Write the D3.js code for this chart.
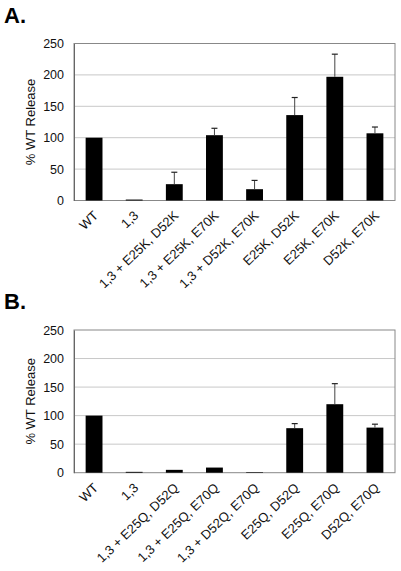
<!DOCTYPE html>
<html><head><meta charset="utf-8">
<script src="https://cdn.jsdelivr.net/npm/d3@7"></script>
<style>body{margin:0;background:#fff}svg{display:block}text{font-family:"Liberation Sans",Arial,sans-serif}</style>
</head><body><svg id="c" width="401" height="571"></svg>
<script>
const categoriesA = ["WT","1,3","1,3 + E25K, D52K","1,3 + E25K, E70K","1,3 + D52K, E70K","E25K, D52K","E25K, E70K","D52K, E70K"];
const valuesA = [100, 1.5, 26, 104, 18, 136, 197, 107];
const errorsA = [0, 0, 19, 11, 14, 28, 36, 10];
const categoriesB = ["WT","1,3","1,3 + E25Q, D52Q","1,3 + E25Q, E70Q","1,3 + D52Q, E70Q","E25Q, D52Q","E25Q, E70Q","D52Q, E70Q"];
const valuesB = [100, 1.5, 5, 9, 1, 78, 120, 79];
const errorsB = [0, 0, 0, 0, 0, 8, 36, 6];
const yTicks = [0, 50, 100, 150, 200, 250];

const svg = d3.select("#c");

function panel(letter, cats, vals, errs, top, bottom, letterY) {
  const left = 74, right = 395;
  const g = svg.append("g");
  const x = d3.scaleBand().domain(cats).range([left, right]).paddingInner(0.58).paddingOuter(0.29);
  const y = d3.scaleLinear().domain([0, 250]).range([bottom, top]);

  g.append("text").attr("x", 4).attr("y", letterY).attr("font-size", 22).attr("font-weight", "bold").text(letter);

  // gridlines
  g.selectAll("line.grid").data(yTicks.filter(t => t > 0 && t < 250)).enter().append("line")
    .attr("x1", left).attr("x2", right).attr("y1", d => y(d)).attr("y2", d => y(d))
    .attr("stroke", "#c8c8c8").attr("stroke-width", 1);

  // frame
  g.append("rect").attr("x", left).attr("y", top).attr("width", right - left).attr("height", bottom - top)
    .attr("fill", "none").attr("stroke", "#888").attr("stroke-width", 1);

  // y axis
  const ya = g.append("g").attr("transform", `translate(${left},0)`)
    .call(d3.axisLeft(y).tickValues(yTicks).tickSize(0).tickPadding(10));
  ya.select(".domain").attr("stroke", "#666");
  ya.selectAll("text").attr("font-size", 12.5).attr("fill", "#111").attr("font-family", '"Liberation Sans",Arial,sans-serif');

  // bars
  g.selectAll("rect.bar").data(vals).enter().append("rect")
    .attr("x", (d, i) => x(cats[i])).attr("width", x.bandwidth())
    .attr("y", d => y(d)).attr("height", d => y(0) - y(d)).attr("fill", "#000");

  // error bars
  const eg = g.selectAll("g.err").data(vals.map((v, i) => ({v, e: errs[i], c: cats[i]})).filter(d => d.e > 0))
    .enter().append("g");
  eg.append("line").attr("x1", d => x(d.c) + x.bandwidth() / 2).attr("x2", d => x(d.c) + x.bandwidth() / 2)
    .attr("y1", d => y(d.v)).attr("y2", d => y(d.v + d.e)).attr("stroke", "#444").attr("stroke-width", 1);
  eg.append("line").attr("x1", d => x(d.c) + x.bandwidth() / 2 - 3).attr("x2", d => x(d.c) + x.bandwidth() / 2 + 3)
    .attr("y1", d => y(d.v + d.e)).attr("y2", d => y(d.v + d.e)).attr("stroke", "#222").attr("stroke-width", 1.2);

  // x labels
  const xa = g.append("g").attr("transform", `translate(0,${bottom})`)
    .call(d3.axisBottom(x).tickSize(0).tickPadding(0));
  xa.select(".domain").remove();
  xa.selectAll("text").attr("font-size", 13).attr("fill", "#111")
    .attr("font-family", '"Liberation Sans",Arial,sans-serif')
    .attr("text-anchor", "end").attr("dy", 0)
    .attr("transform", "translate(5,16) rotate(-44)");

  // y title
  g.append("text").attr("transform", `translate(35,${(top + bottom) / 2}) rotate(-90)`)
    .attr("text-anchor", "middle").attr("font-size", 13).attr("fill", "#111").text("% WT Release");
}

panel("A.", categoriesA, valuesA, errorsA, 43.5, 200.5, 23);
panel("B.", categoriesB, valuesB, errorsB, 330, 472.7, 309);
</script></body></html>
